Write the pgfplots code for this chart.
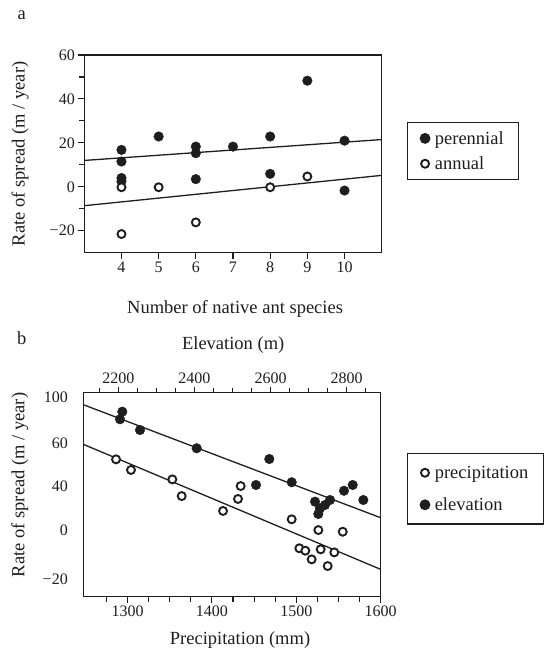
\documentclass[border=0pt]{standalone}
\usepackage{fontspec}
\setmainfont{Liberation Serif}
\usepackage{pgfplots}
\pgfplotsset{compat=1.18}
\definecolor{ink}{HTML}{1E1E1E}

\pgfplotsset{
  fig/.style={
    scale only axis, anchor=south west,
    axis line style={ink, line width=1.3pt},
    every tick/.style={ink, line width=1.1pt},
    tick align=outside,
    major tick length=6pt, minor tick length=5pt,
    tick label style={font=\fontsize{16}{19}\selectfont, text=ink},
    label style={font=\fontsize{18.5}{22}\selectfont, text=ink},
    legend cell align=left,
    legend style={draw=ink, line width=1.2pt, fill=white, text=ink,
      font=\fontsize{18.5}{22}\selectfont, inner xsep=13pt, inner ysep=7pt,
      row sep=7pt},
  },
  filled/.style={only marks, mark=*, mark size=4.8pt, ink, mark options={fill=ink}},
  hollow/.style={only marks, mark=*, mark size=4pt, ink, mark options={fill=white, line width=1.9pt}},
  fit/.style={ink, line width=1.3pt, no marks},
}

\begin{document}
\begin{tikzpicture}
\useasboundingbox (0pt,0pt) rectangle (552pt,649pt);
\node[font=\fontsize{18.5}{22}\selectfont, text=ink] at (21.7pt,634pt) {a};
\node[font=\fontsize{18.5}{22}\selectfont, text=ink] at (21.7pt,311pt) {b};

% panel a
\begin{axis}[fig,
    at={(84.3pt,396.3pt)}, width=297.4pt, height=197.7pt,
    xmin=3, xmax=11, ymin=-30, ymax=60,
    xtick pos=left, ytick pos=left,
    xtick={4,5,6,7,8,9,10}, xticklabels={4,5,6,7,8,9,10},
    ytick={-20,0,20,40,60}, yticklabels={−20,0,20,40,60},
    minor ytick={-10,10,30,50},
    xlabel={Number of native ant species},
    ylabel={Rate of spread (m / year)},
    xlabel style={at={(axis description cs:0.507,-0.285)}, anchor=center},
    ylabel style={at={(axis description cs:-0.216,0.5)}, anchor=center},
    legend style={at={(axis description cs:1.084,0.663)}, anchor=north west},
]
\addplot[fit, forget plot] coordinates {(3,12.0) (11,21.5)};
\addplot[fit, forget plot] coordinates {(3,-8.6) (11,5.2)};
\addplot[filled] table {
x y
4 16.8
4 11.5
4 4.0
4 2.5
5 22.9
6 18.3
6 15.3
6 3.5
7 18.3
8 22.9
8 5.9
9 48.3
10 21.0
10 -1.7
};
\addlegendentry{\hspace{3pt}perennial\hspace{6pt}}
\addplot[hollow] table {
x y
4 -0.2
4 -21.5
5 -0.2
6 -16.2
8 -0.2
9 4.7
};
\addlegendentry{\hspace{3pt}annual}
\end{axis}

% panel b, precipitation (bottom axis)
\begin{axis}[fig,
    at={(83.3pt,52.3pt)}, width=297.4pt, height=204pt,
    xmin=1247.6, xmax=1600, ymin=-31.6, ymax=102.8,
    xtick pos=left, ytick pos=left,
    xtick={1300,1400,1500,1600}, xticklabels={1300,1400,1500,1600},
    minor xtick={1275,1300,...,1600},
    ytick={100,69.5,40.9,12.3,-20}, yticklabels={100,60,40,0,−20},
    ytick style={draw=none},
    yticklabel style={xshift=-6pt},
    minor ytick={100,90.77,81.54,72.31,63.08,53.85,44.62,35.38,26.15,16.92,7.69,-1.54,-10.77,-20,-29.23},
    xlabel={Precipitation (mm)},
    ylabel={Rate of spread (m / year)},
    xlabel style={at={(axis description cs:0.527,-0.212)}, anchor=center},
    ylabel style={at={(axis description cs:-0.213,0.548)}, anchor=center},
]
\addplot[fit] coordinates {(1247.6,68.8) (1600,-13.6)};
\addplot[hollow] table {
x y
1286.4 58.9
1304.1 51.9
1353.1 45.7
1364.2 34.7
1434.1 41.3
1430.9 32.8
1413.2 24.9
1494.5 19.4
1526.1 12.3
1555.0 11.2
1503.6 0.3
1510.7 -1.3
1528.9 -0.4
1518.2 -7.0
1545.0 -2.4
1537.2 -11.4
};
\end{axis}

% panel b, elevation (top axis)
\begin{axis}[fig,
    at={(83.3pt,52.3pt)}, width=297.4pt, height=204pt,
    xmin=2108, xmax=2889.6, ymin=-31.6, ymax=102.8,
    axis x line*=top, hide y axis, tick align=outside,
    xtick={2200,2400,2600,2800}, xticklabels={2200,2400,2600,2800},
    minor xtick={2150,2200,...,2850},
    xlabel={Elevation (m)},
    xlabel style={at={(axis description cs:0.504,1.234)}, anchor=center},
    legend style={at={(axis description cs:1.087,0.703)}, anchor=north west,
      row sep=14pt, inner ysep=10pt},
]
\addlegendimage{hollow}
\addlegendentry{\hspace{3pt}precipitation\hspace{1pt}}
\addplot[fit, forget plot] coordinates {(2108,94.9) (2889.6,20.4)};
\addplot[filled] table {
x y
2210.5 90.3
2204.5 85.3
2257.0 78.2
2406.0 66.2
2596.8 59.1
2561.9 42.0
2655.7 43.8
2717.0 31.0
2725.6 22.9
2730.0 26.6
2743.1 28.8
2756.4 32.1
2793.2 38.2
2816.0 42.0
2843.9 32.1
};
\addlegendentry{\hspace{3pt}elevation}
\end{axis}
\end{tikzpicture}
\end{document}
